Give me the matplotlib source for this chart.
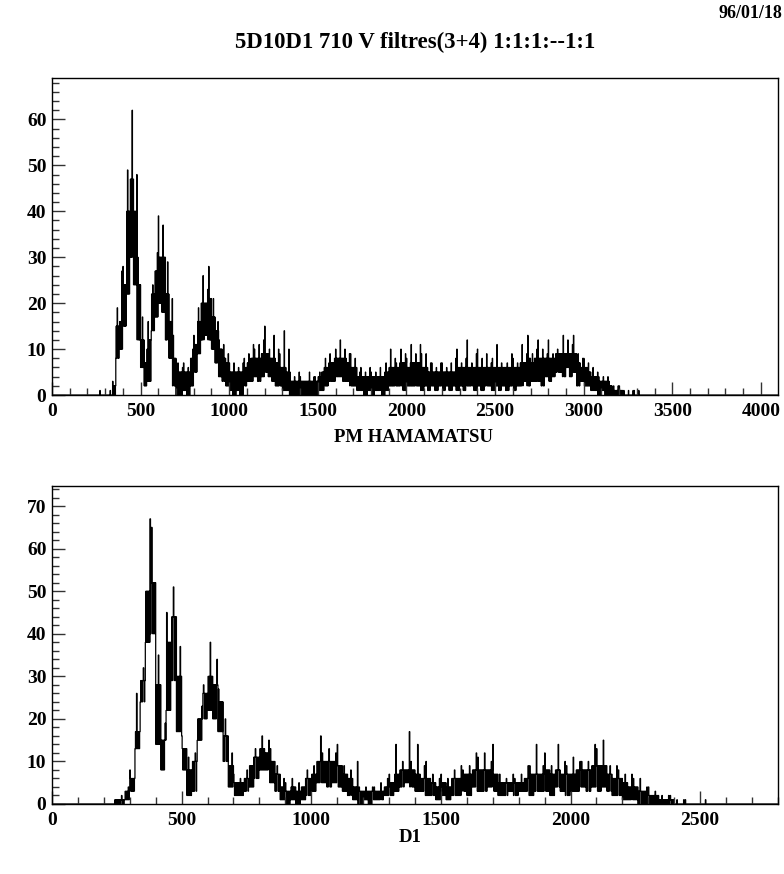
import numpy as np
import matplotlib
matplotlib.use('Agg')
import matplotlib.pyplot as plt
from matplotlib.ticker import MultipleLocator

plt.rcParams['font.family'] = ['Liberation Serif', 'DejaVu Serif']
plt.rcParams['font.weight'] = 'bold'

# top histogram (PM HAMAMATSU), read per 20-channel chunk:
# spike height, bottom of the noise band, top of the noise band
top_start = 340
top_hi = [3, 19, 27, 28, 49, 62, 48, 30, 17, 10, 16, 24, 31, 39, 37, 29, 21, 13, 7, 6,
          7, 6, 10, 13, 19, 26, 23, 28, 21, 16, 12, 11, 9, 7, 7, 6, 7, 8, 9, 11,
          10, 11, 12, 15, 10, 13, 10, 9, 14, 10, 5, 4, 5, 4, 3, 5, 4, 4, 5, 6,
          8, 9, 8, 10, 12, 10, 9, 9, 8, 5, 6, 5, 6, 5, 5, 6, 5, 7, 10, 8,
          7, 10, 9, 8, 11, 9, 11, 9, 9, 7, 7, 6, 7, 7, 6, 7, 8, 10, 7, 8,
          12, 7, 9, 10, 8, 9, 7, 8, 11, 7, 6, 7, 9, 8, 7, 11, 9, 13, 9, 10,
          12, 10, 9, 12, 9, 10, 9, 13, 12, 11, 13, 9, 8, 8, 7, 6, 5, 4, 4, 4,
          3, 2, 2, 2, 1, 1, 1, 1, 1]
top_lo = [0, 8, 10, 15, 22, 30, 24, 12, 6, 2, 3, 14, 17, 20, 18, 12, 8, 2, 0, 0,
          1, 0, 2, 5, 9, 12, 13, 12, 10, 7, 4, 3, 2, 1, 0, 1, 0, 2, 3, 3,
          4, 3, 4, 5, 4, 3, 2, 2, 1, 1, 0, 0, 0, 0, 0, 0, 0, 0, 1, 1,
          2, 3, 3, 4, 4, 3, 3, 2, 2, 1, 1, 0, 1, 0, 1, 1, 0, 1, 2, 2,
          2, 2, 1, 2, 2, 2, 2, 1, 2, 1, 2, 1, 2, 1, 2, 1, 2, 1, 2, 1,
          2, 2, 1, 2, 1, 2, 2, 1, 2, 1, 2, 1, 2, 1, 2, 2, 3, 2, 3, 3,
          3, 2, 4, 3, 4, 5, 5, 4, 6, 4, 5, 2, 3, 2, 2, 1, 1, 0, 1, 0,
          0, 0, 0, 0, 0, 0, 0, 0, 0]
top_mid = [2, 15, 16, 24, 40, 47, 40, 24, 12, 7, 12, 22, 27, 30, 30, 22, 16, 8, 5, 5,
           5, 5, 8, 11, 16, 20, 20, 21, 17, 14, 10, 8, 7, 5, 5, 5, 5, 6, 7, 8,
           8, 8, 9, 9, 8, 8, 7, 6, 6, 5, 3, 3, 3, 3, 3, 3, 3, 3, 4, 5,
           6, 7, 7, 8, 8, 8, 7, 6, 6, 4, 4, 4, 4, 4, 4, 4, 4, 5, 6, 6,
           6, 7, 7, 6, 7, 7, 7, 6, 6, 5, 5, 5, 5, 5, 5, 5, 5, 6, 6, 6,
           6, 6, 6, 6, 6, 6, 6, 6, 6, 6, 6, 6, 6, 6, 6, 7, 7, 8, 7, 8,
           8, 8, 8, 8, 8, 9, 9, 9, 9, 9, 9, 7, 6, 6, 5, 4, 4, 3, 3, 3,
           2, 1, 1, 1, 0, 0, 0, 0, 0]
top_extra_x = [270, 328]
top_extra_y = [1, 1]

# bottom histogram (D1)
bot_start = 240
bot_hi = [1, 2, 4, 8, 26, 32, 67, 65, 35, 19, 45, 51, 37, 16, 11, 12, 23, 28, 38, 34,
          27, 20, 12, 7, 6, 8, 11, 13, 16, 15, 13, 9, 6, 5, 6, 5, 6, 8, 9, 16,
          12, 13, 12, 14, 9, 8, 10, 4, 4, 4, 4, 5, 6, 7, 14, 10, 17, 10, 14, 9,
          10, 7, 6, 7, 6, 8, 9, 8, 9, 12, 11, 12, 10, 14, 7, 6, 7, 6, 7, 9,
          9, 14, 9, 12, 9, 14, 10, 9, 11, 10, 10, 10, 14, 13, 15, 9, 9, 8, 7, 7,
          6, 6, 4, 4, 3, 2, 2, 2, 1, 1, 1, 0]
bot_lo = [0, 0, 1, 3, 13, 24, 38, 40, 14, 8, 22, 29, 17, 8, 2, 3, 15, 20, 22, 20,
          17, 10, 4, 2, 2, 3, 4, 6, 8, 8, 5, 3, 1, 0, 1, 0, 1, 2, 3, 5,
          5, 4, 5, 4, 3, 2, 1, 0, 1, 0, 1, 1, 2, 2, 3, 4, 5, 4, 3, 3,
          2, 2, 1, 2, 1, 2, 2, 3, 2, 4, 3, 3, 4, 3, 2, 2, 3, 2, 3, 3,
          2, 3, 3, 3, 2, 4, 3, 2, 3, 3, 4, 3, 4, 3, 4, 3, 2, 2, 1, 1,
          1, 0, 0, 0, 0, 0, 0, 0, 0, 0, 0, 0]
bot_mid = [1, 1, 3, 6, 17, 29, 50, 52, 28, 15, 38, 44, 30, 13, 8, 10, 20, 26, 30, 28,
           24, 16, 9, 5, 5, 6, 9, 11, 13, 12, 10, 7, 4, 3, 4, 3, 4, 6, 7, 10,
           10, 10, 10, 9, 7, 6, 4, 3, 3, 3, 3, 3, 4, 5, 7, 8, 8, 8, 7, 6,
           6, 5, 4, 5, 4, 6, 6, 7, 7, 8, 8, 8, 8, 7, 5, 5, 5, 5, 5, 6,
           7, 7, 7, 8, 7, 8, 7, 7, 7, 8, 8, 8, 9, 9, 9, 7, 6, 6, 5, 4,
           4, 3, 3, 2, 2, 1, 1, 1, 0, 0, 0, 0]
bot_extra_x = [2520]
bot_extra_y = [1]


def build(start, hi, lo, mid, ex, ey, xmax):
    # each 20-channel chunk is split in 10 bins of 2 channels,
    # alternating band bottom / band top, with one spike bin
    edges = np.arange(0, xmax + 2, 2)
    vals = np.zeros(len(edges) - 1)
    for i in range(len(hi)):
        k = (start + 20 * i) // 2
        for j in range(10):
            vals[k + j] = mid[i] if j % 2 else lo[i]
        vals[k + (3 * i + 1) % 10] = hi[i]
    for x, y in zip(ex, ey):
        vals[x // 2] = y
    return edges, vals


def style(ax, xmax, ymax):
    ax.set_xlim(0, xmax)
    ax.set_ylim(0, ymax)
    ax.xaxis.set_major_locator(MultipleLocator(500))
    ax.xaxis.set_minor_locator(MultipleLocator(100))
    ax.yaxis.set_major_locator(MultipleLocator(10))
    ax.yaxis.set_minor_locator(MultipleLocator(2))
    ax.tick_params(which='both', direction='in', top=False, right=False,
                   labelsize=14, width=1, color='#333333')
    ax.tick_params(which='major', length=9.5)
    ax.tick_params(which='minor', length=4.8)
    ax.tick_params(axis='x', pad=6)
    ax.tick_params(axis='y', pad=4)
    for lab in ax.get_xticklabels() + ax.get_yticklabels():
        lab.set_fontweight('bold')
    for s in ax.spines.values():
        s.set_linewidth(1.0)


fig = plt.figure(figsize=(7.84, 8.74), dpi=100)

ax1 = fig.add_axes([0.0663, 0.548, 0.926, 0.3627])
e, v = build(top_start, top_hi, top_lo, top_mid, top_extra_x, top_extra_y, 4100)
ax1.stairs(v, e, color='black', linewidth=0.9)
style(ax1, 4096, 69)

ax2 = fig.add_axes([0.0663, 0.0801, 0.926, 0.3638])
e, v = build(bot_start, bot_hi, bot_lo, bot_mid, bot_extra_x, bot_extra_y, 2800)
ax2.stairs(v, e, color='black', linewidth=0.9)
style(ax2, 2800, 74.7)

fig.text(415 / 784, 1 - 42 / 874, '5D10D1 710 V filtres(3+4) 1:1:1:--1:1',
         ha='center', va='center', fontsize=16.4, fontweight='bold')
fig.text(782 / 784, 1 - 13 / 874, '96/01/18', ha='right', va='center',
         fontsize=13, fontweight='bold')
fig.text(414 / 784, 1 - 437 / 874, 'PM HAMAMATSU', ha='center', va='center',
         fontsize=13.5, fontweight='bold')
fig.text(410 / 784, 1 - 838 / 874, 'D1', ha='center', va='center',
         fontsize=13.5, fontweight='bold')

fig.savefig('out.png', dpi=100)
